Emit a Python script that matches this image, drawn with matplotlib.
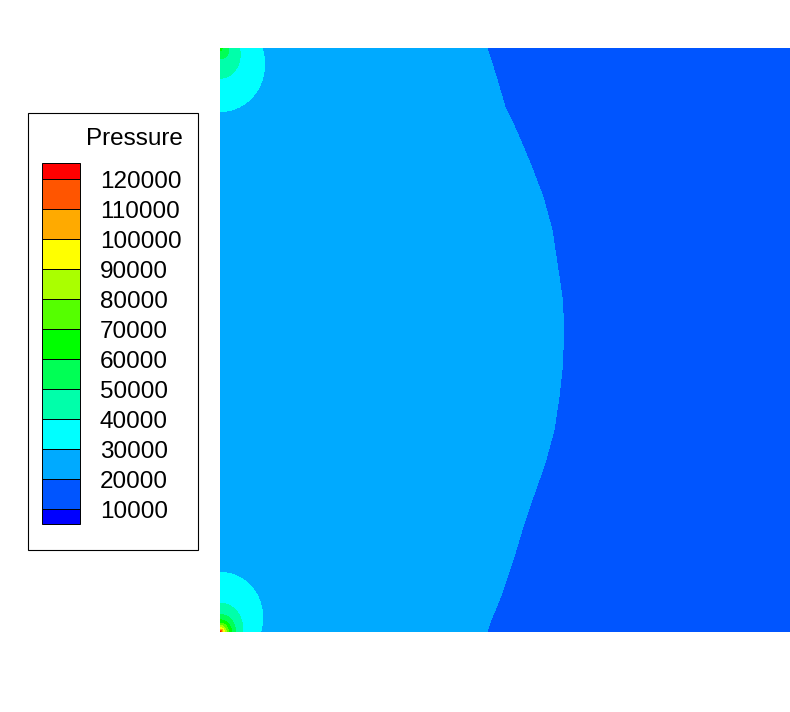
import numpy as np
import matplotlib
matplotlib.use('Agg')
import matplotlib.pyplot as plt
from matplotlib.patches import Rectangle

plt.rcParams['font.family'] = ['Liberation Sans', 'DejaVu Sans']

# contour levels (Pa) and the band colours, lowest band first
levels = [10000, 20000, 30000, 40000, 50000, 60000, 70000, 80000, 90000, 100000, 110000, 120000]
band_colors = ['#0000ff', '#0055ff', '#00aaff', '#00ffff', '#00ffaa', '#00ff55',
               '#00ff00', '#55ff00', '#aaff00', '#ffff00', '#ffaa00', '#ff5500', '#ff0000']

# domain size
width, height = 570, 584

# where the 20000 Pa front sits
front_y = [0, 12, 39, 72, 102, 135, 169, 202, 235, 262, 302, 335, 369, 402, 435, 469, 502, 525, 559, 584]
front_x = [267, 271, 282, 293, 302, 313, 325, 334, 339, 342, 344, 342, 337, 332, 323, 310, 296, 285, 275, 267]

# high pressure spots at the two left corners
spot_center_y = [562, 19]     # middle of the cyan blobs
spot_corner_y = [584, 0]      # the corner the peak sits in
spot_peak = [30000, 90000]
spot_decay = [14.0, 9.0]

# -----------------------------------------------------
x = np.linspace(0, width, 600)
y = np.linspace(0, height, 620)
X, Y = np.meshgrid(x, y)

xf = np.interp(Y, front_y, front_x)
P = 20000 + 5000 * np.tanh((xf - X) / 60.0)
for cy, ky, pk, dk in zip(spot_center_y, spot_corner_y, spot_peak, spot_decay):
    rc = np.hypot(X, Y - cy)
    rk = np.hypot(X, Y - ky)
    P += 12000 * np.exp(-(rc / 42.8) ** 2) + pk * np.exp(-rk / dk)

fig = plt.figure(figsize=(7.9, 7.12), dpi=100)
ax = fig.add_axes([220 / 790, 80 / 712, 570 / 790, 584 / 712])
ax.contourf(X, Y, P, levels=[-1e9] + levels + [1e9], colors=band_colors, antialiased=False)
ax.set_xlim(0, width)
ax.set_ylim(0, height)
ax.axis('off')

# -----------------------------------------------------
# legend drawn in pixel coordinates
lax = fig.add_axes([0, 0, 1, 1], facecolor='none')
lax.set_xlim(0, 790)
lax.set_ylim(712, 0)
lax.axis('off')

lax.add_patch(Rectangle((28, 113), 170, 437, facecolor='white', edgecolor='black', lw=0.8))
lax.text(183, 145, 'Pressure', ha='right', va='baseline', fontsize=17.5)

bounds = [163] + [178.5 + 30 * k for k in range(12)] + [524]
top_first = band_colors[::-1]
for k in range(13):
    lax.add_patch(Rectangle((42, bounds[k]), 38, bounds[k + 1] - bounds[k],
                            facecolor=top_first[k], edgecolor='black', lw=0.7))

for k, lev in enumerate(levels[::-1]):
    lax.text(100, bounds[k + 1] + 10, str(lev), ha='left', va='baseline', fontsize=17.5)

fig.savefig('out.png', dpi=100)
